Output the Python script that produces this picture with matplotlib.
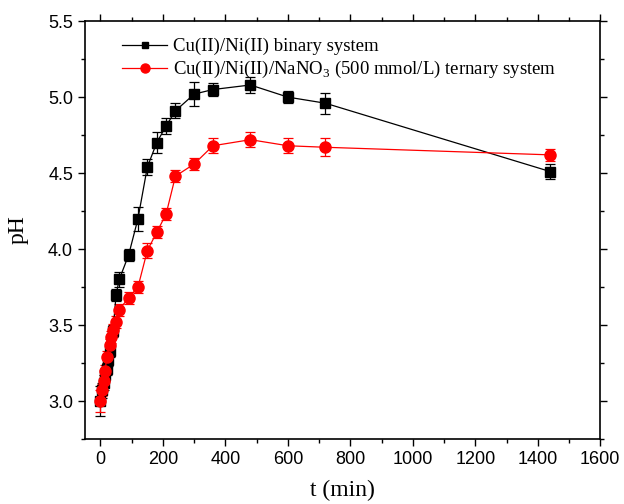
import numpy as np
import matplotlib
matplotlib.use("Agg")
import matplotlib.pyplot as plt
from matplotlib.ticker import MultipleLocator, FormatStrFormatter
from matplotlib.lines import Line2D

plt.rcParams['mathtext.fontset'] = 'custom'
plt.rcParams['mathtext.rm'] = 'Liberation Serif'

# binary system
t_bin = [0, 5, 10, 15, 20, 25, 30, 40, 50, 60, 90, 120, 150, 180, 210, 240, 300, 360, 480, 600, 720, 1440]
ph_bin = [3.00, 3.07, 3.12, 3.17, 3.21, 3.27, 3.33, 3.46, 3.70, 3.80, 3.96, 4.20, 4.54, 4.70, 4.81, 4.91,
          5.02, 5.05, 5.08, 5.00, 4.96, 4.51]
err_bin = [0.10, 0.05, 0.05, 0.04, 0.04, 0.04, 0.04, 0.04, 0.04, 0.05, 0.04, 0.08, 0.05, 0.07, 0.05, 0.05,
           0.08, 0.04, 0.05, 0.04, 0.07, 0.05]

# ternary system
t_ter = [0, 5, 10, 15, 20, 30, 35, 40, 50, 60, 90, 120, 150, 180, 210, 240, 300, 360, 480, 600, 720, 1440]
ph_ter = [3.00, 3.07, 3.13, 3.20, 3.29, 3.37, 3.42, 3.47, 3.52, 3.60, 3.68, 3.75, 3.99, 4.11, 4.23, 4.48,
          4.56, 4.68, 4.72, 4.68, 4.67, 4.62]
err_ter = [0.07, 0.04, 0.04, 0.04, 0.04, 0.04, 0.04, 0.04, 0.04, 0.04, 0.04, 0.04, 0.05, 0.04, 0.04, 0.04,
           0.04, 0.05, 0.05, 0.05, 0.06, 0.04]

lab_bin = 'Cu(II)/Ni(II) binary system'
lab_ter = r'Cu(II)/Ni(II)/NaNO$_\mathrm{3}$ (500 mmol/L) ternary system'

fig = plt.figure(figsize=(6.24, 5.04), dpi=100)
ax = fig.add_axes([0.136, 0.129, 0.826, 0.829])

ax.errorbar(t_bin, ph_bin, yerr=err_bin, color='black', marker='s', ms=7, lw=0.9,
            capsize=3.6, elinewidth=0.9, capthick=0.9)
ax.errorbar(t_ter, ph_ter, yerr=err_ter, color='red', marker='o', ms=8, lw=0.9,
            capsize=3.6, elinewidth=0.9, capthick=0.9)

ax.set_xlim(-50, 1600)
ax.set_ylim(2.75, 5.5)
ax.xaxis.set_major_locator(MultipleLocator(200))
ax.xaxis.set_minor_locator(MultipleLocator(100))
ax.yaxis.set_major_locator(MultipleLocator(0.5))
ax.yaxis.set_minor_locator(MultipleLocator(0.25))
ax.yaxis.set_major_formatter(FormatStrFormatter('%.1f'))

ax.tick_params(which='both', direction='out', top=True, right=True, width=1)
ax.tick_params(which='major', length=5, labelsize=13)
ax.tick_params(which='minor', length=3)
for lbl in ax.get_xticklabels() + ax.get_yticklabels():
    lbl.set_fontfamily('Liberation Sans')
for s in ax.spines.values():
    s.set_linewidth(1.2)

ax.set_xlabel('t (min)', fontsize=17, family='Liberation Serif', labelpad=9)
ax.set_ylabel('pH', fontsize=17, family='Liberation Serif', labelpad=14)

handles = [Line2D([], [], color='black', marker='s', ms=5, lw=0.9),
           Line2D([], [], color='red', marker='o', ms=6.5, lw=0.9)]
ax.legend(handles, [lab_bin, lab_ter], loc='upper left', frameon=False,
          prop={'family': 'Liberation Serif', 'size': 13.5},
          handlelength=2.4, handletextpad=0.3, labelspacing=0.2,
          bbox_to_anchor=(0.04, 1.0))

fig.savefig('out.png', dpi=100)
